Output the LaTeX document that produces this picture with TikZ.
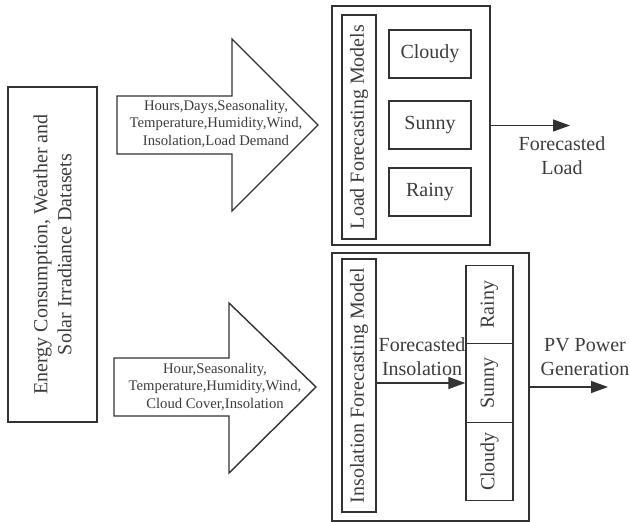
\documentclass[tikz,border=0pt]{standalone}
\usepackage{fontspec}
\setmainfont{Liberation Serif}
\usetikzlibrary{arrows.meta}
\definecolor{ln}{RGB}{50,50,50}
\definecolor{tx}{RGB}{60,60,60}
\tikzset{
  box/.style={draw=ln, line width=1.4pt, inner sep=0pt},
  big/.style={text=tx, font=\fontsize{20}{24}\selectfont, align=center, inner sep=0pt},
  small/.style={text=tx, font=\fontsize{14.7}{17.5}\selectfont, align=center, inner sep=0pt},
  arr/.style={draw=ln, line width=1.4pt, -{Triangle[length=17pt,width=12pt]}},
  fat/.style={draw=ln, line width=1.4pt, line join=miter}
}
\begin{document}
\begin{tikzpicture}[x=1pt,y=-1pt]
\useasboundingbox (0,0) rectangle (630,522);
% left dataset box
\node[box, minimum width=89pt, minimum height=335pt] (ds) at (52.5,254.5) {};
\node[big, rotate=90] (dst) at (ds.center) {Energy Consumption, Weather and\\Solar Irradiance Datasets};
% big arrows
\draw[fat] (117,96) -- (232,96) -- (232,39) -- (318,125) -- (232,211) -- (232,154) -- (117,154) -- cycle;
\node[small] (a1t) at (216,124) {Hours,Days,Seasonality,\\Temperature,Humidity,Wind,\\Insolation,Load Demand};
\draw[fat] (114,358) -- (229,358) -- (229,303) -- (316,387) -- (229,473) -- (229,416) -- (114,416) -- cycle;
\node[small] (a2t) at (215,387) {Hour,Seasonality,\\Temperature,Humidity,Wind,\\Cloud Cover,Insolation};
% top block
\node[box, minimum width=158pt, minimum height=239pt] (lbox) at (411,125.5) {};
\node[box, minimum width=34pt, minimum height=224pt] (llab) at (359,127) {};
\node[big, rotate=90] (llabt) at (llab.center) {Load Forecasting Models};
\node[box, minimum width=82pt, minimum height=48pt] (lc) at (430,54) {};
\node[big] at (lc.center) {Cloudy};
\node[box, minimum width=82pt, minimum height=48pt] (ls) at (430,125) {};
\node[big] at (ls.center) {Sunny};
\node[box, minimum width=82pt, minimum height=48pt] (lr) at (430,192) {};
\node[big] at (lr.center) {Rainy};
\coordinate (lend) at (570,125.5);
\draw[arr] (lbox.east) -- (lend);
\node[big] (flt) at (562,156) {Forecasted\\Load};
% bottom block
\node[box, minimum width=197pt, minimum height=268pt] (ibox) at (430.5,387) {};
\node[box, minimum width=34pt, minimum height=253pt] (ilab) at (359,385.5) {};
\node[big, rotate=90] (ilabt) at (ilab.center) {Insolation Forecasting Model};
\node[box, minimum width=47pt, minimum height=78.5pt] (ir) at (489.5,304.5) {};
\node[big, rotate=90] at (ir.center) {Rainy};
\node[box, minimum width=47pt, minimum height=78.5pt] (is) at (489.5,383) {};
\node[big, rotate=90] at (is.center) {Sunny};
\node[box, minimum width=47pt, minimum height=78.5pt] (ic) at (489.5,461.5) {};
\node[big, rotate=90] at (ic.center) {Cloudy};
\draw[arr] (ilab.east |- is.west) -- (is.west);
\node[big] (fit) at (422,357) {Forecasted\\Insolation};
\coordinate (pend) at (608,387);
\draw[arr] (ibox.east) -- (pend);
\node[big] (pvt) at (585,357) {PV Power\\Generation};
\end{tikzpicture}
\end{document}
